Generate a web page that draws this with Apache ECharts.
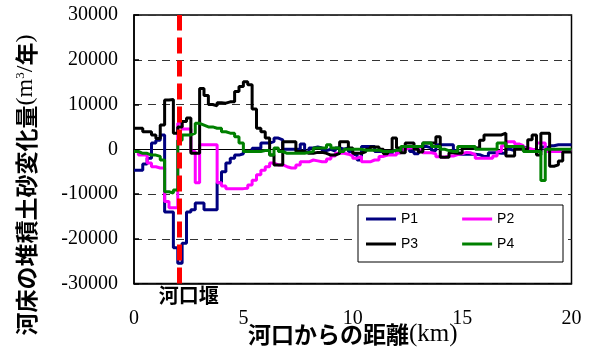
<!DOCTYPE html>
<html><head><meta charset="utf-8">
<script src="https://cdn.jsdelivr.net/npm/echarts@6/dist/echarts.min.js"></script>
<style>html,body{margin:0;padding:0;background:#fff}#c{width:591px;height:350px}</style>
</head><body><div id="c"></div>
<script>
// distance from river mouth (km), left edge of each 0.2 km section
const kmStep = 0.2;
const kmCount = 100;
const kmEnd = 20;
const km = Array.from({length: kmCount}, (_, i) => +(i * kmStep).toFixed(1));
const weirKm = 2.05;
const xTicks = [0, 5, 10, 15, 20];
const yTicks = [-30000, -20000, -10000, 0, 10000, 20000, 30000];
const seriesNames = ['P1', 'P2', 'P3', 'P4'];

const P1 = [-4700,-4700,-3300,-2000,1400,2000,3200,-14000,-14000,-22000,
  -25500,-21000,-14000,-13500,-12000,-12000,-13500,-13500,-13500,-7500,
  -5000,-3100,-2000,-1300,-1000,-500,-500,200,200,1400,
  1400,1700,2500,2100,0,0,0,0,1200,-600,
  300,500,300,-300,0,-400,300,0,300,-500,
  -1200,-2400,600,600,600,-500,-500,-800,-1000,-300,
  -800,0,300,-500,-1000,-300,600,300,-300,1000,
  1000,1000,1000,-300,-1100,-1100,-1100,-1100,-1200,-1600,
  -1600,-800,-800,-900,-900,0,-300,300,500,300,
  -300,0,-500,500,300,800,1000,1000,1000,1000];

const P2 = [-500,-1300,-1300,-3100,-3900,-4200,-4200,-11700,-13100,-13100,
  5800,4500,4500,-500,-7500,1000,1000,1000,1000,-7500,
  -8200,-8800,-8800,-8800,-8800,-8700,-8000,-6900,-5700,-4700,
  -3900,-3100,-3500,-3500,-3900,-4200,-4200,-3500,-2800,-2800,
  -2400,-2600,-2800,-2800,-2200,-1500,-900,-900,-1100,-1500,
  -2000,-1600,-2800,-2800,-2400,-2400,-1600,-1300,-1300,-1300,
  -800,0,300,300,0,-300,-800,-800,-1000,-1700,
  -1800,-1500,-1500,-1200,-1000,-700,-800,-1200,-2000,-2000,
  -2000,-2000,-1500,-500,800,1700,1700,1200,800,300,
  0,-300,1400,1400,-500,-500,-500,-500,-300,-300];

const P3 = [4700,4700,3900,3900,3200,2400,5400,11000,11100,3600,
  5000,6200,7000,-900,-900,13600,12000,10000,9700,10400,
  10300,10600,10600,12900,14000,15100,14400,9000,4700,3900,
  2500,-1300,-3500,-3500,1700,1700,1700,-500,-500,-900,
  -900,-700,-700,-900,-1300,-1300,-900,1700,1700,300,
  -900,-900,-500,0,500,500,0,-1000,-500,2500,
  300,-800,1400,1400,0,-600,1400,1400,1400,2800,
  -1800,-1800,-800,-900,-900,300,300,300,300,2000,
  3200,3200,3200,3200,3600,-1500,-1500,0,0,0,
  2100,3200,-1300,3600,3600,-3800,-3500,-2600,-600,-600];

const P4 = [-500,-900,-900,-1300,-1300,-1600,-2400,-9500,-9800,-9100,
  2000,3200,3200,3600,5800,5400,5000,5000,4700,4700,
  3900,3600,3600,2800,1400,-500,-500,-500,-500,-300,
  -300,-1300,300,-500,-900,-900,-900,-900,-900,-700,
  -500,300,300,300,1000,300,300,-500,0,0,
  0,0,-200,-200,-200,-200,-500,-500,-500,-200,
  -200,600,600,600,600,600,1400,1400,600,600,
  0,-300,-500,-500,600,600,600,600,0,0,
  0,0,0,1400,1400,600,600,600,600,-500,
  -500,-500,-500,-7000,0,0,0,0,0,0];

const colors = ['#000080', '#FF00FF', '#000000', '#008000'];
const serif = 'Liberation Serif';
const cjk = 'Noto Sans CJK JP';

function toData(vals) {
  const d = km.map((k, i) => [k, vals[i]]);
  d.push([kmEnd, vals[vals.length - 1]]);
  return d;
}

const values = [P1, P2, P3, P4];
const series = values.map((v, i) => ({
  name: seriesNames[i], type: 'line', step: 'end', data: toData(v),
  showSymbol: false, symbol: 'none', animation: false,
  lineStyle: {color: colors[i], width: 3}, itemStyle: {color: colors[i]},
  xAxisIndex: 0, yAxisIndex: 0
}));
series[3].markLine = {
  silent: true, symbol: 'none', animation: false,
  lineStyle: {color: '#FF0000', width: 5, type: [16, 7]},
  label: {show: false},
  data: [{xAxis: weirKm}]
};

const chart = echarts.init(document.getElementById('c'), null, {renderer: 'canvas'});
const option = {
  animation: false,
  backgroundColor: '#fff',
  grid: {left: 134, top: 15, right: 19.5, bottom: 66.5, show: true, borderColor: '#000', borderWidth: 1.5,
    backgroundColor: 'transparent', containLabel: false, outerBoundsMode: 'none'},
  xAxis: [{
    type: 'value', min: xTicks[0], max: xTicks[xTicks.length - 1], interval: 5,
    axisLine: {show: true, onZero: false, lineStyle: {color: '#000', width: 1.5}},
    axisTick: {show: false}, splitLine: {show: false},
    axisLabel: {color: '#000', fontFamily: serif, fontSize: 20, margin: 25, formatter: v => String(v)},
    name: '{j|河口からの距離}{s|(km)}', nameLocation: 'middle', nameGap: 38, nameMoveOverlap: false,
    nameTextStyle: {rich: {
      j: {fontFamily: cjk, fontWeight: 'bold', fontSize: 23, color: '#000'},
      s: {fontFamily: serif, fontSize: 25, color: '#000'}
    }}
  }, {
    type: 'value', min: xTicks[0], max: xTicks[xTicks.length - 1], position: 'bottom',
    axisLine: {show: true, onZero: true, lineStyle: {color: '#000', width: 1}},
    axisTick: {show: false}, axisLabel: {show: false}, splitLine: {show: false}
  }],
  yAxis: {
    type: 'value', min: yTicks[0], max: yTicks[yTicks.length - 1], interval: 10000,
    axisLine: {show: true, lineStyle: {color: '#000', width: 1.5}},
    axisTick: {show: true, inside: true, length: 5, lineStyle: {color: '#000', width: 1.5}},
    splitLine: {show: true, lineStyle: {color: '#333', width: 1, type: [8, 6]}},
    axisLabel: {color: '#000', fontFamily: serif, fontSize: 20, margin: 16, formatter: v => String(v)}
  },
  legend: [{
    data: ['P1', 'P2'], left: 366, top: 212, orient: 'horizontal', itemGap: 44,
    icon: 'rect', itemWidth: 30, itemHeight: 3, padding: 0, z: 6,
    textStyle: {fontFamily: 'Liberation Sans', fontSize: 14, color: '#000'}
  }, {
    data: ['P3', 'P4'], left: 366, top: 237, orient: 'horizontal', itemGap: 44,
    icon: 'rect', itemWidth: 30, itemHeight: 3, padding: 0, z: 6,
    textStyle: {fontFamily: 'Liberation Sans', fontSize: 14, color: '#000'}
  }],
  series: series
};
chart.setOption(option);

const weirX = chart.convertToPixel({xAxisIndex: 0}, weirKm);
chart.setOption({
  graphic: [{
    type: 'rect', z: 5, shape: {x: 358, y: 205, width: 205, height: 57},
    style: {fill: '#fff', stroke: '#000', lineWidth: 1}
  }, {
    type: 'text', x: weirX + 10, y: 295, z: 5,
    style: {text: '河口堰', font: 'bold 20px "Noto Sans CJK JP"', fill: '#000', align: 'center', verticalAlign: 'middle'}
  }, {
    type: 'text', x: 26, y: 185, rotation: Math.PI / 2, z: 5,
    style: {
      text: '{j|河床の堆積土砂変化量}{s|(m}{sup|3}{s|/}{j|年}{s|)}',
      align: 'center', verticalAlign: 'middle', fill: '#000',
      rich: {
        j: {fontFamily: cjk, fontWeight: 'bold', fontSize: 23, fill: '#000'},
        s: {fontFamily: serif, fontSize: 24, fill: '#000'},
        sup: {fontFamily: serif, fontSize: 13, fill: '#000', verticalAlign: 'top', padding: [0, 0, 8, 0]}
      }
    }
  }]
});
</script>
</body></html>
